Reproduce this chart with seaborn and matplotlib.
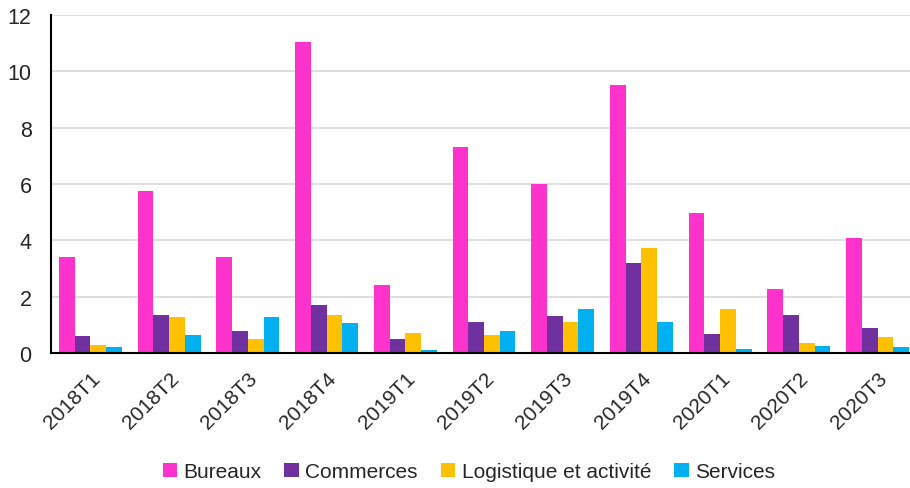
import pandas as pd
import numpy as np
import seaborn as sns
import matplotlib.pyplot as plt

# Données
trimestres = ["2018T1", "2018T2", "2018T3", "2018T4", "2019T1", "2019T2",
              "2019T3", "2019T4", "2020T1", "2020T2", "2020T3"]
bureaux = [3.4, 5.75, 3.4, 11.03, 2.42, 7.3, 6.0, 9.53, 4.98, 2.28, 4.07]
commerces = [0.6, 1.34, 0.78, 1.7, 0.48, 1.09, 1.32, 3.2, 0.68, 1.36, 0.88]
logistique = [0.28, 1.28, 0.51, 1.36, 0.72, 0.63, 1.09, 3.74, 1.57, 0.36, 0.57]
services = [0.2, 0.64, 1.29, 1.07, 0.1, 0.79, 1.57, 1.09, 0.13, 0.25, 0.2]

series = {
    "Bureaux": bureaux,
    "Commerces": commerces,
    "Logistique et activité": logistique,
    "Services": services,
}
couleurs = ["#FF33CC", "#7030A0", "#FFC000", "#00B0F0"]

df = pd.DataFrame(series, index=trimestres).reset_index(names="trimestre")
df = df.melt(id_vars="trimestre", var_name="type", value_name="valeur")

sns.set_style("white")
plt.rcParams["font.family"] = ["Liberation Sans", "DejaVu Sans"]

fig = plt.figure(figsize=(9.1, 4.89), dpi=100)
ax = fig.add_axes([51 / 910, 1 - 354 / 489, 866 / 910, 338 / 489])

sns.barplot(data=df, x="trimestre", y="valeur", hue="type", palette=couleurs,
            width=0.8, saturation=1, gap=0, errorbar=None, ax=ax, legend=True,
            linewidth=0)

ax.set_xlim(-0.5, len(trimestres) - 0.5)
ax.set_ylim(0, 12)
ax.set_yticks(np.arange(0, 13, 2))
ax.yaxis.grid(True, color="#D9D9D9", linewidth=1.2)
ax.set_axisbelow(True)
ax.set_xlabel("")
ax.set_ylabel("")

for s in ["top", "right"]:
    ax.spines[s].set_visible(False)
for s in ["left", "bottom"]:
    ax.spines[s].set_color("black")
    ax.spines[s].set_linewidth(1.5)

# graduations entre les groupes
ax.set_xticks(np.arange(-0.5, len(trimestres), 1), minor=True)
ax.tick_params(axis="x", which="minor", length=6, width=1.5, color="black", direction="out")
ax.tick_params(axis="x", which="major", length=0, pad=11)
ax.tick_params(axis="y", length=5, width=1.2, color="black", labelsize=15.5, pad=9)
ax.set_xticks(range(len(trimestres)))
ax.set_xticklabels(trimestres, rotation=45, ha="right", rotation_mode="anchor", fontsize=15)

handles, labels = ax.get_legend_handles_labels()
ax.get_legend().remove()
fig.legend(handles, labels, loc="center", bbox_to_anchor=(0.515, 0.033), ncol=4,
           frameon=False, fontsize=15, handlelength=0.7, handleheight=0.7,
           handletextpad=0.3, columnspacing=1.1)

fig.savefig("out.png", dpi=100)
